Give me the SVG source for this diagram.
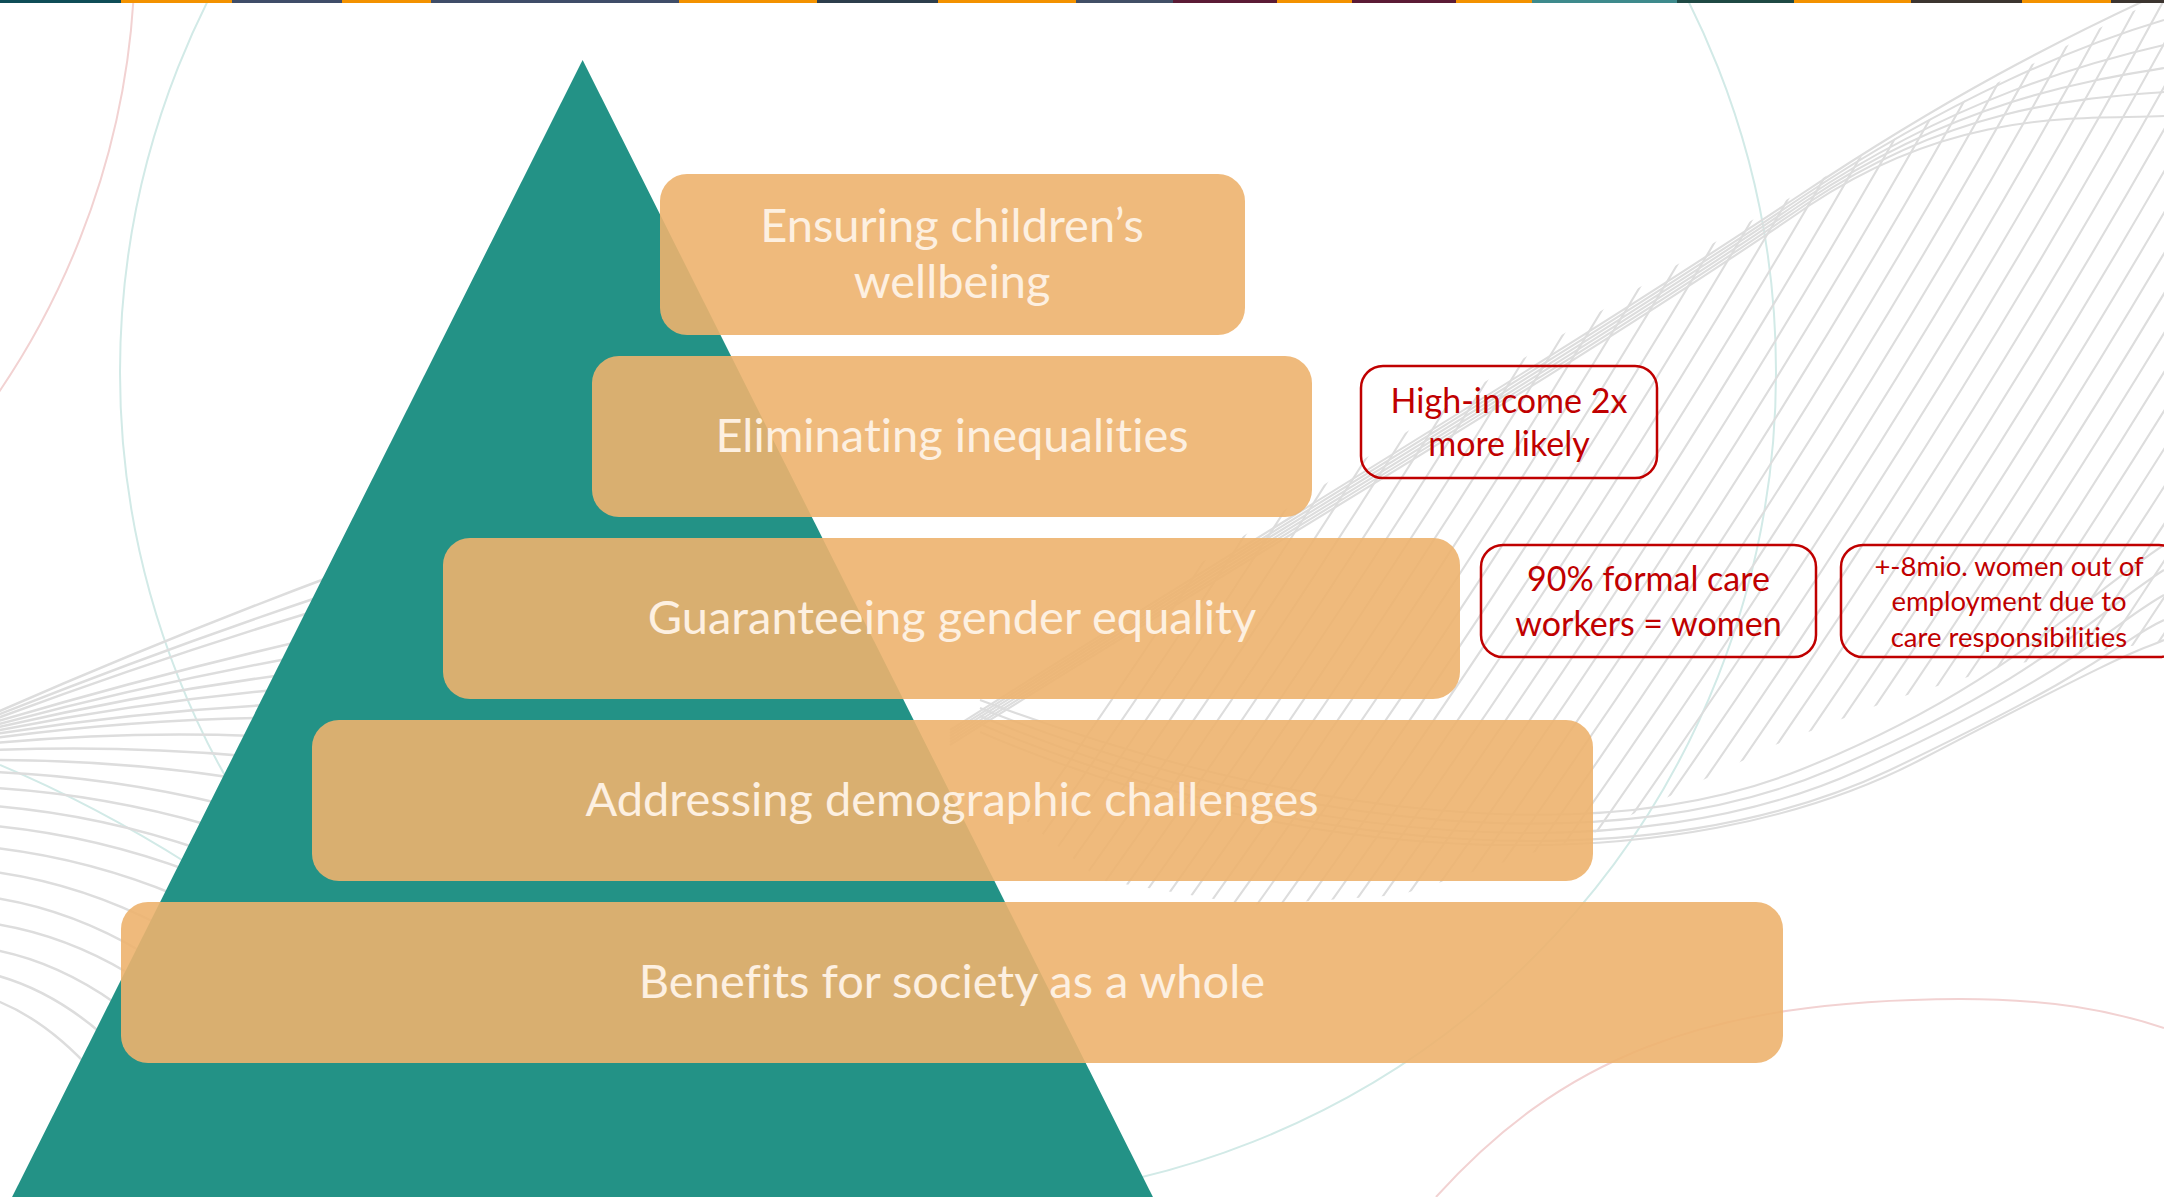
<svg xmlns="http://www.w3.org/2000/svg" xmlns:xlink="http://www.w3.org/1999/xlink" width="2164" height="1197" viewBox="0 0 2164 1197">
<style>
.bg{fill:none;stroke:#DDDDDD;stroke-width:2.1}
.fan{stroke-width:2.5}
.teal{fill:none;stroke:#D2EAE7;stroke-width:2}
.pink{fill:none;stroke:#F2D2D2;stroke-width:2}
.box{fill:#EDB26E;fill-opacity:0.9}
.lbl{font-family:Lato,"Open Sans",sans-serif;font-size:47px;fill:#FDF0E1;text-anchor:middle;font-variant-ligatures:none}
.nbox{fill:none;stroke:#C00000;stroke-width:2.5}
.note{font-family:Lato,"Open Sans",sans-serif;font-size:34px;fill:#C00000;text-anchor:middle;font-variant-ligatures:none}
.note3{font-size:27.5px}
</style>
<defs>
<path id="h" d="M0,0 Q380,-520 640,-1000"/>
<clipPath id="ribbon">
<polygon points="2170,-5 2124,15 2008,77 1833,172 1658,276 1483,383 1300,500 1150,595 1040,665 960,722 1000,800 1100,880 1250,905 1400,895 1590,835 1775,745 1891,700 2008,665 2170,640"/>
</clipPath>
</defs>
<rect width="2164" height="1197" fill="#FFFFFF"/>

<g id="background">
<circle class="pink" cx="-650" cy="-50" r="785"/>
<path class="pink" d="M1436,1197 C1560,1060 1700,1000 1960,999 C2050,999 2110,1010 2164,1028"/>
<circle class="teal" cx="948" cy="372" r="828"/>
<path class="teal" d="M0,765 Q95,805 190,865"/>
<g id="leftfan" class="bg fan">
<path d="M-5,713 Q167,638 335,575"/>
<path d="M-5,716 Q161,650 322,596"/>
<path d="M-5,719 Q157,659 315,611"/>
<path d="M-5,722 Q151,676 302,641"/>
<path d="M-5,725 Q146,685 292,658"/>
<path d="M-5,728 Q141,694 282,675"/>
<path d="M-5,731 Q137,703 275,690"/>
<path d="M-5,734 Q134,712 268,705"/>
<path d="M-5,738 Q131,720 262,718"/>
<path d="M-5,743 Q127,731 255,736"/>
<path d="M-5,750 Q122,745 245,756"/>
<path d="M-5,760 Q117,760 235,778"/>
<path d="M-5,772 Q111,777 222,804"/>
<path d="M-5,788 Q104,795 208,825"/>
<path d="M-5,806 Q101,815 202,850"/>
<path d="M-5,826 Q96,836 192,872"/>
<path d="M-5,848 Q89,859 178,896"/>
<path d="M-5,872 Q81,884 162,926"/>
<path d="M-5,898 Q71,910 142,952"/>
<path d="M-5,924 Q64,935 128,973"/>
<path d="M-5,950 Q57,962 115,1003"/>
<path d="M-5,975 Q51,990 102,1034"/>
<path d="M-5,1000 Q47,1020 95,1074"/>
</g>
<g id="hatch" class="bg" clip-path="url(#ribbon)">
<use xlink:href="#h" transform="translate(900,1000)"/>
<use xlink:href="#h" transform="translate(924,1000)"/>
<use xlink:href="#h" transform="translate(948,1000)"/>
<use xlink:href="#h" transform="translate(972,1000)"/>
<use xlink:href="#h" transform="translate(996,1000)"/>
<use xlink:href="#h" transform="translate(1020,1000)"/>
<use xlink:href="#h" transform="translate(1044,1000)"/>
<use xlink:href="#h" transform="translate(1068,1000)"/>
<use xlink:href="#h" transform="translate(1092,1000)"/>
<use xlink:href="#h" transform="translate(1116,1000)"/>
<use xlink:href="#h" transform="translate(1140,1000)"/>
<use xlink:href="#h" transform="translate(1164,1000)"/>
<use xlink:href="#h" transform="translate(1188,1000)"/>
<use xlink:href="#h" transform="translate(1212,1000)"/>
<use xlink:href="#h" transform="translate(1236,1000)"/>
<use xlink:href="#h" transform="translate(1260,1000)"/>
<use xlink:href="#h" transform="translate(1284,1000)"/>
<use xlink:href="#h" transform="translate(1308,1000)"/>
<use xlink:href="#h" transform="translate(1332,1000)"/>
<use xlink:href="#h" transform="translate(1356,1000)"/>
<use xlink:href="#h" transform="translate(1380,1000)"/>
<use xlink:href="#h" transform="translate(1404,1000)"/>
<use xlink:href="#h" transform="translate(1428,1000)"/>
<use xlink:href="#h" transform="translate(1452,1000)"/>
<use xlink:href="#h" transform="translate(1476,1000)"/>
<use xlink:href="#h" transform="translate(1500,1000)"/>
<use xlink:href="#h" transform="translate(1524,1000)"/>
<use xlink:href="#h" transform="translate(1548,1000)"/>
<use xlink:href="#h" transform="translate(1572,1000)"/>
<use xlink:href="#h" transform="translate(1596,1000)"/>
<use xlink:href="#h" transform="translate(1620,1000)"/>
<use xlink:href="#h" transform="translate(1644,1000)"/>
<use xlink:href="#h" transform="translate(1668,1000)"/>
<use xlink:href="#h" transform="translate(1692,1000)"/>
<use xlink:href="#h" transform="translate(1716,1000)"/>
<use xlink:href="#h" transform="translate(1740,1000)"/>
<use xlink:href="#h" transform="translate(1764,1000)"/>
<use xlink:href="#h" transform="translate(1788,1000)"/>
<use xlink:href="#h" transform="translate(1812,1000)"/>
<use xlink:href="#h" transform="translate(1836,1000)"/>
<use xlink:href="#h" transform="translate(1860,1000)"/>
<use xlink:href="#h" transform="translate(1884,1000)"/>
<use xlink:href="#h" transform="translate(1908,1000)"/>
<use xlink:href="#h" transform="translate(1932,1000)"/>
<use xlink:href="#h" transform="translate(1956,1000)"/>
<use xlink:href="#h" transform="translate(1980,1000)"/>
<use xlink:href="#h" transform="translate(2004,1000)"/>
<use xlink:href="#h" transform="translate(2028,1000)"/>
<use xlink:href="#h" transform="translate(2052,1000)"/>
<use xlink:href="#h" transform="translate(2076,1000)"/>
<use xlink:href="#h" transform="translate(2100,1000)"/>
<use xlink:href="#h" transform="translate(2124,1000)"/>
<use xlink:href="#h" transform="translate(2148,1000)"/>
</g>
<g id="envelope" class="bg">
<path d="M950,730 C1250,540 1560,355 1800,195 C1950,95 2060,40 2150,-2"/>
<path d="M950,733 C1252,542 1562,358 1802,197 C1952,97 2080,45 2164,20"/>
<path d="M950,736 C1254,544 1564,361 1804,199 C1954,99 2090,62 2164,45"/>
<path d="M950,739 C1256,546 1566,364 1806,201 C1956,101 2090,80 2164,68"/>
<path d="M950,742 C1258,548 1568,367 1808,203 C1958,103 2090,98 2164,92"/>
<path d="M950,745 C1260,550 1570,370 1810,205 C1960,105 2090,120 2164,116"/>
</g>
<g id="lowerarcs" class="bg">
<path d="M980,700 C1300,820 1600,850 1800,770 S2080,600 2164,545"/>
<path d="M980,708 C1300,835 1620,860 1830,770 S2100,610 2164,570"/>
<path d="M980,716 C1300,850 1640,870 1860,770 S2110,625 2164,595"/>
<path d="M980,724 C1300,860 1660,880 1890,770 S2120,640 2164,620"/>
<path d="M980,732 C1300,870 1680,885 1920,760 S2130,655 2164,640"/>
</g>
</g>

<polygon id="pyramid" points="582.6,60 -10,1241 1175,1241" fill="#239286"/>

<g id="box1">
<rect class="box" x="660" y="174" width="585" height="161" rx="27"/>
<text class="lbl" x="952" y="242">Ensuring children’s</text>
<text class="lbl" x="952" y="298">wellbeing</text>
</g>
<g id="box2">
<rect class="box" x="592" y="356" width="720" height="161" rx="27"/>
<text class="lbl" x="952" y="452">Eliminating inequalities</text>
</g>
<g id="box3">
<rect class="box" x="443" y="538" width="1017" height="161" rx="27"/>
<text class="lbl" x="952" y="634">Guaranteeing gender equality</text>
</g>
<g id="box4">
<rect class="box" x="312" y="720" width="1281" height="161" rx="27"/>
<text class="lbl" x="952" y="816">Addressing demographic challenges</text>
</g>
<g id="box5">
<rect class="box" x="121" y="902" width="1662" height="161" rx="27"/>
<text class="lbl" x="952" y="998">Benefits for society as a whole</text>
</g>

<g id="note1">
<rect class="nbox" x="1361" y="366" width="296" height="112" rx="22"/>
<text class="note" x="1509" y="413">High-income 2x</text>
<text class="note" x="1509" y="456">more likely</text>
</g>
<g id="note2">
<rect class="nbox" x="1481" y="545" width="335" height="112" rx="22"/>
<text class="note" x="1648.5" y="591">90% formal care</text>
<text class="note" x="1648.5" y="636">workers = women</text>
</g>
<g id="note3">
<rect class="nbox" x="1841" y="545" width="340" height="112" rx="22"/>
<text class="note note3" x="2009" y="576">+-8mio. women out of</text>
<text class="note note3" x="2009" y="611">employment due to</text>
<text class="note note3" x="2009" y="647">care responsibilities</text>
</g>

<g id="topstripe">
<rect x="0" y="0" width="121" height="3" fill="#0E4D57"/>
<rect x="121" y="0" width="111" height="3" fill="#F39200"/>
<rect x="232" y="0" width="110" height="3" fill="#3F4D68"/>
<rect x="342" y="0" width="89" height="3" fill="#F39200"/>
<rect x="431" y="0" width="248" height="3" fill="#3F4D68"/>
<rect x="679" y="0" width="138" height="3" fill="#F39200"/>
<rect x="817" y="0" width="121" height="3" fill="#2D3E4C"/>
<rect x="938" y="0" width="138" height="3" fill="#F39200"/>
<rect x="1076" y="0" width="97" height="3" fill="#414F66"/>
<rect x="1173" y="0" width="104" height="3" fill="#5B1B35"/>
<rect x="1277" y="0" width="75" height="3" fill="#F39200"/>
<rect x="1352" y="0" width="104" height="3" fill="#5B1B35"/>
<rect x="1456" y="0" width="76" height="3" fill="#F39200"/>
<rect x="1532" y="0" width="145" height="3" fill="#3E8A8C"/>
<rect x="1677" y="0" width="117" height="3" fill="#1F4944"/>
<rect x="1794" y="0" width="117" height="3" fill="#F39200"/>
<rect x="1911" y="0" width="111" height="3" fill="#3C3530"/>
<rect x="2022" y="0" width="89" height="3" fill="#F39200"/>
<rect x="2111" y="0" width="53" height="3" fill="#3C3530"/>
</g>
</svg>
